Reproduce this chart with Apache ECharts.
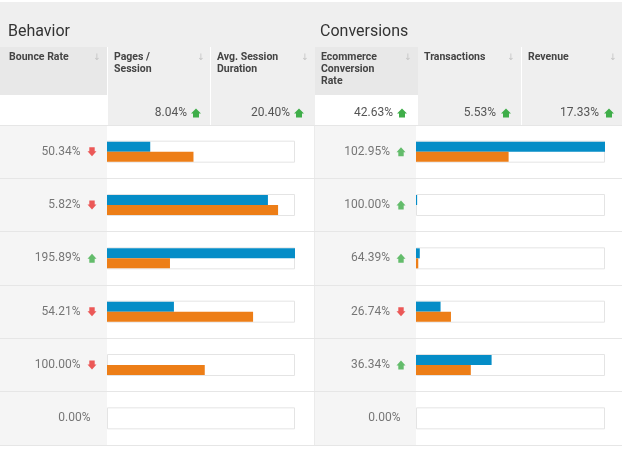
<!DOCTYPE html>
<html>
<head>
<meta charset="utf-8">
<script src="https://cdn.jsdelivr.net/npm/echarts@6/dist/echarts.min.js"></script>
<style>html,body{margin:0;padding:0;background:#fff}#c{width:626px;height:450px}</style>
</head>
<body>
<div id="c"></div>
<script>
// ---- data ----
const rows = ['r1', 'r2', 'r3', 'r4', 'r5', 'r6'];
const bounceRate = ['50.34%', '5.82%', '195.89%', '54.21%', '100.00%', '0.00%'];
const bounceDir = ['down', 'down', 'up', 'down', 'down', ''];
const ecomRate = ['102.95%', '100.00%', '64.39%', '26.74%', '36.34%', '0.00%'];
const ecomDir = ['up', 'up', 'up', 'down', 'up', ''];
const behaviorBlue = [0.23, 0.856, 1.0, 0.356, 0, 0];
const behaviorOrange = [0.46, 0.91, 0.335, 0.777, 0.52, 0];
const conversionBlue = [1.0, 0.006, 0.02, 0.13, 0.40, 0];
const conversionOrange = [0.49, 0, 0.012, 0.185, 0.29, 0];
const groupTitles = ['Behavior', 'Conversions'];
const columnHeaders = ['Bounce Rate', 'Pages /\nSession', 'Avg. Session\nDuration', 'Ecommerce\nConversion\nRate', 'Transactions', 'Revenue'];
const summaryValues = ['', '8.04%', '20.40%', '42.63%', '5.53%', '17.33%'];
const summaryDir = ['', 'up', 'up', 'up', 'up', 'up'];

// ---- styles ----
const BLUE = '#058dc7', ORANGE = '#ed7e17', GREEN = '#3fae49', RED = '#e8312f';
const UP = 'path://M5,0 L10,5 L8,5 L8,9 L2,9 L2,5 L0,5 Z';
const DOWN = 'path://M2,0 L8,0 L8,4 L10,4 L5,9 L0,4 L2,4 Z';
const FONT = 'Roboto';
const TOP = 125, H = 320;

const colX = [0, 108, 211, 315, 418, 522];
const colW = [107, 102, 104, 103, 103, 100];
const headerBg = ['#e8e8e8', '#efefef', '#efefef', '#e8e8e8', '#efefef', '#efefef'];
const summaryBg = ['#ffffff', '#efefef', '#efefef', '#ffffff', '#efefef', '#efefef'];
const sortX = [97, 201, 305, 408, 511, 613];
const summaryRight = [0, 187, 290, 393, 496, 599];
const summaryArrowX = [0, 196, 299, 402, 506, 609];

function upPoly(cx, cy) {
  const p = [[5,0],[10,5],[8,5],[8,9],[2,9],[2,5],[0,5]];
  return p.map(q => [cx - 5 + q[0], cy - 4.5 + q[1]]);
}

const graphics = [];
// top band
graphics.push({type: 'rect', shape: {x: 0, y: 2, width: 622, height: 45}, style: {fill: '#efefef'}, z: -100});
// header + summary cells
for (let i = 0; i < 6; i++) {
  graphics.push({type: 'rect', shape: {x: colX[i], y: 47, width: colW[i], height: 48}, style: {fill: headerBg[i]}, z: -100});
  graphics.push({type: 'rect', shape: {x: colX[i], y: 95, width: colW[i], height: 30}, style: {fill: summaryBg[i]}, z: -100});
  graphics.push({type: 'text', x: colX[i] + (i === 0 ? 9 : 6), y: 51,
    style: {text: columnHeaders[i], font: 'bold 10.5px ' + FONT, fill: '#444', lineHeight: 12, verticalAlign: 'top'}, z: 100});
  graphics.push({type: 'text', x: sortX[i], y: 58,
    style: {text: '\u2193', font: '9px "DejaVu Sans"', fill: '#c4c4c4', align: 'center', verticalAlign: 'middle'}, z: 100});
  if (summaryValues[i]) {
    graphics.push({type: 'text', x: summaryRight[i], y: 113,
      style: {text: summaryValues[i], font: '12px ' + FONT, fill: '#555', align: 'right', verticalAlign: 'middle'}, z: 100});
  }
  if (summaryDir[i]) {
    graphics.push({type: 'polygon', shape: {points: upPoly(summaryArrowX[i], 113)}, style: {fill: GREEN}, z: 100});
  }
}
// group titles
graphics.push({type: 'text', x: 8, y: 32, style: {text: groupTitles[0], font: '16px ' + FONT, fill: '#333', verticalAlign: 'middle'}, z: 100});
graphics.push({type: 'text', x: 320, y: 32, style: {text: groupTitles[1], font: '16px ' + FONT, fill: '#333', verticalAlign: 'middle'}, z: 100});
// data area: value columns grey
graphics.push({type: 'rect', shape: {x: 0, y: TOP, width: 107, height: H}, style: {fill: '#f5f5f5'}, z: -100});
graphics.push({type: 'rect', shape: {x: 315, y: TOP, width: 101, height: H}, style: {fill: '#f5f5f5'}, z: -100});
graphics.push({type: 'rect', shape: {x: 314, y: TOP, width: 1, height: H}, style: {fill: '#ebebeb'}, z: -100});

const chart = echarts.init(document.getElementById('c'), null, {renderer: 'canvas'});

function hiddenValueAxis(grid, max) {
  return {type: 'value', gridIndex: grid, min: 0, max: max, show: false};
}
function hiddenCatAxis(grid, extra) {
  return Object.assign({type: 'category', gridIndex: grid, data: rows, inverse: true,
    axisLine: {show: false}, axisTick: {show: false}, axisLabel: {show: false}, splitLine: {show: false}}, extra || {});
}
function arrowSeries(xIdx, yIdx, texts, dirs, arrowX, dist, distNone) {
  return {
    type: 'scatter', xAxisIndex: xIdx, yAxisIndex: yIdx, silent: true, z: 5,
    data: texts.map((t, i) => ({
      value: [arrowX, i],
      symbol: dirs[i] === 'up' ? UP : DOWN,
      symbolSize: [9, 9],
      itemStyle: {color: dirs[i] === 'up' ? GREEN : dirs[i] === 'down' ? RED : 'rgba(0,0,0,0)'},
      label: {show: true, position: 'left', distance: dirs[i] ? dist : distNone, formatter: t,
        color: '#555', fontSize: 12, fontFamily: FONT}
    }))
  };
}
function boxSeries(xIdx, yIdx) {
  return {type: 'bar', xAxisIndex: xIdx, yAxisIndex: yIdx, data: rows.map(() => 1), barWidth: 22, silent: true, z: 1,
    itemStyle: {color: '#fff', borderColor: '#e4e4e4', borderWidth: 1}};
}
function dataBar(xIdx, yIdx, data, color) {
  return {type: 'bar', xAxisIndex: xIdx, yAxisIndex: yIdx, data: data, barWidth: 10, barGap: '0%', silent: true, z: 3,
    itemStyle: {color: color}};
}

chart.setOption({
  animation: false,
  backgroundColor: '#fff',
  graphic: {elements: graphics},
  grid: [
    {left: 107, top: TOP, width: 188, height: H},
    {left: 416, top: TOP, width: 189, height: H},
    {left: 0, top: TOP, width: 107, height: H},
    {left: 315, top: TOP, width: 101, height: H},
    {left: 0, top: TOP, width: 622, height: H}
  ],
  xAxis: [
    hiddenValueAxis(0, 1), hiddenValueAxis(1, 1), hiddenValueAxis(2, 107), hiddenValueAxis(3, 101), hiddenValueAxis(4, 1)
  ],
  yAxis: [
    hiddenCatAxis(0), hiddenCatAxis(0),
    hiddenCatAxis(1), hiddenCatAxis(1),
    hiddenCatAxis(2), hiddenCatAxis(3),
    hiddenCatAxis(4, {splitLine: {show: true, lineStyle: {color: '#e6e6e6', width: 1}}})
  ],
  series: [
    boxSeries(0, 0),
    dataBar(0, 1, behaviorBlue, BLUE),
    dataBar(0, 1, behaviorOrange, ORANGE),
    boxSeries(1, 2),
    dataBar(1, 3, conversionBlue, BLUE),
    dataBar(1, 3, conversionOrange, ORANGE),
    arrowSeries(2, 4, bounceRate, bounceDir, 92, 7, -3),
    arrowSeries(3, 5, ecomRate, ecomDir, 86, 6.5, -4),
    {type: 'scatter', xAxisIndex: 4, yAxisIndex: 6, data: [], silent: true}
  ]
});
</script>
</body>
</html>
